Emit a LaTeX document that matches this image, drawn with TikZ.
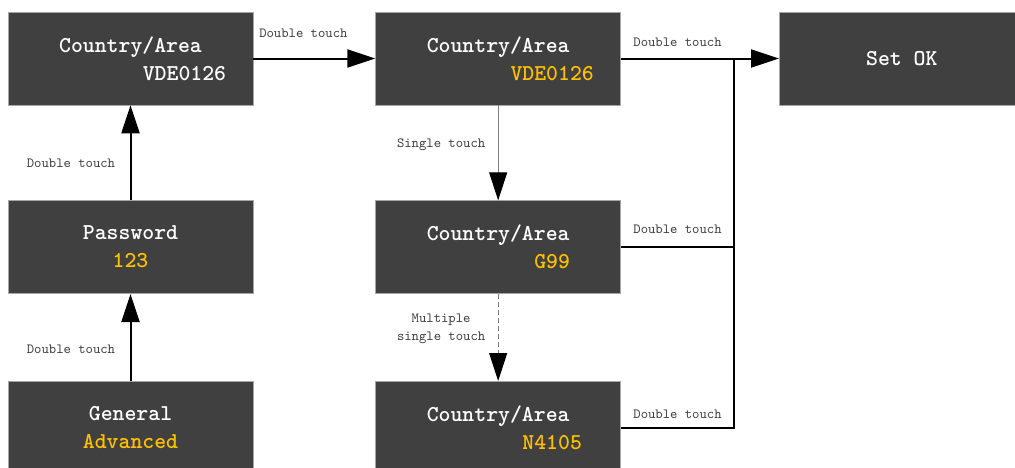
\documentclass[tikz,border=0pt]{standalone}
\usepackage{fontspec}
\usepackage{xcolor}
\usepackage{tikz}
\usetikzlibrary{arrows.meta, positioning}
\definecolor{boxgray}{RGB}{64,64,64}
\definecolor{valgold}{RGB}{255,192,0}
\definecolor{labgray}{RGB}{60,60,60}

\begin{document}
\begin{tikzpicture}
        % Define block styles with dark gray background
        \tikzstyle{block} = [rectangle, draw=gray!70, line width=0.5pt, fill=boxgray, text=white,
                             minimum width=183.75pt, minimum height=69.75pt, align=center,
                             font=\fontsize{17}{21}\selectfont\ttfamily\bfseries]
        \tikzstyle{arrow} = [line width=1.5pt, -{Triangle[length=21pt, width=13.5pt]}]
        \tikzstyle{thinarrow} = [line width=0.75pt, gray, -{Triangle[length=21pt, width=13.5pt, color=black]}]
        \tikzstyle{wire} = [line width=1.5pt]
        \tikzstyle{lbl} = [font=\fontsize{10.5}{13}\selectfont\ttfamily, text=labgray, align=center]

        \useasboundingbox (0,0) rectangle (761.25pt,-351pt);

        % Blocks
        \node (cavde) [block] at (97.875pt,-43.875pt) {Country/Area\\\hspace*{81pt}VDE0126};
        \node (cavdeset) [block, right=91.5pt of cavde] {Country/Area\\\hspace*{81pt}\textcolor{valgold}{VDE0126}};
        \node (setok) [block, right=118.5pt of cavdeset] {Set OK};
        \node (password) [block, below=71.25pt of cavde] {Password\\\textcolor{valgold}{123}};
        \node (general) [block, below=65.25pt of password] {General\\\textcolor{valgold}{Advanced}};
        \node (cag99) [block, below=71.25pt of cavdeset] {Country/Area\\\hspace*{81pt}\textcolor{valgold}{G99}};
        \node (can4105) [block, below=65.25pt of cag99] {Country/Area\\\hspace*{81pt}\textcolor{valgold}{N4105}};
        \coordinate [right=84.75pt of cavdeset.east] (join);

        % Arrows
        \draw [arrow] (general) -- node[lbl, pos=0.37, left=7.5pt] {Double touch} (password);
        \draw [arrow] (password) -- node[lbl, pos=0.39, left=7.5pt] {Double touch} (cavde);
        \draw [arrow] (cavde) -- node[lbl, pos=0.41, yshift=18.75pt] {Double touch} (cavdeset);
        \draw [thinarrow] (cavdeset) -- node[lbl, pos=0.42, left=6pt] {Single touch} (cag99);
        \draw [thinarrow, dash pattern=on 4pt off 2pt] (cag99) -- node[lbl, pos=0.4, left=6pt] {Multiple\\single touch} (can4105);
        \draw [arrow] (cavdeset.east) -- node[lbl, yshift=12.5pt] {Double touch} (join) -- (setok.west);
        \draw [wire] (cag99.east) -- node[lbl, yshift=13.5pt] {Double touch} (cag99.east -| join);
        \draw [wire] (can4105.east) -- node[lbl, yshift=10.5pt] {Double touch} (can4105.east -| join) -- (join);
\end{tikzpicture}
\end{document}
